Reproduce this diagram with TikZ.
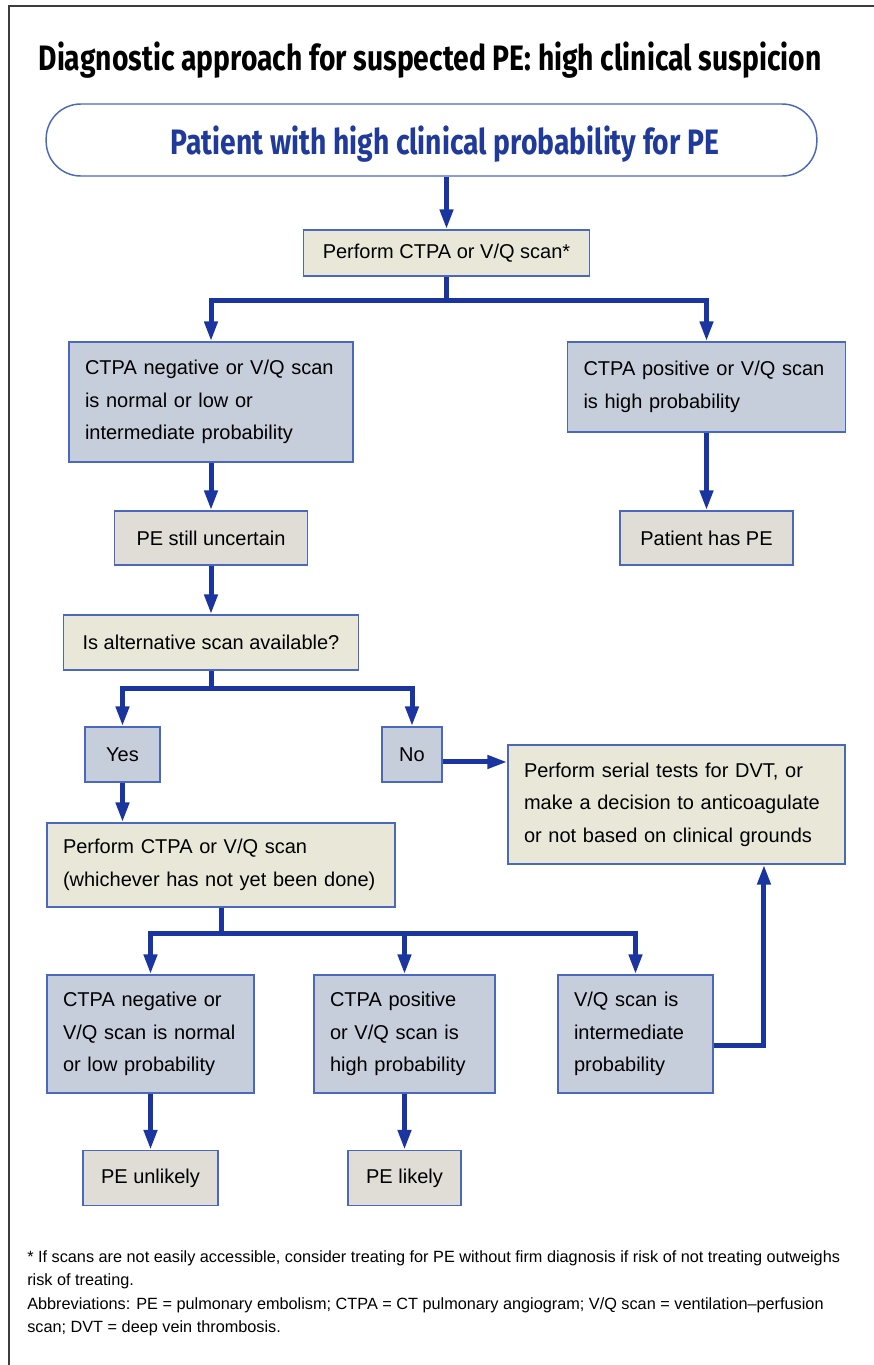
\documentclass[tikz,border=0pt]{standalone}
\usepackage{fontspec}
\setmainfont{Liberation Sans}
\newfontfamily\headfont[FakeStretch=0.8]{Fira Sans}
\usetikzlibrary{arrows.meta,calc}

\definecolor{flowblue}{RGB}{26,53,160}
\definecolor{edgeblue}{RGB}{74,104,190}
\definecolor{titleblue}{RGB}{31,58,154}
\definecolor{bluegrey}{RGB}{198,205,219}
\definecolor{paleyellow}{RGB}{233,232,216}
\definecolor{warmgrey}{RGB}{224,220,214}
\definecolor{framegrey}{RGB}{60,60,60}

\begin{document}
\begin{tikzpicture}[x=7.5pt, y=-7.5pt,
    box/.style={rectangle, draw=edgeblue, line width=0.9pt, inner xsep=12pt, inner ysep=0pt,
                font=\fontsize{15pt}{24.4pt}\selectfont},
    actbox/.style={box, fill=paleyellow},
    resbox/.style={box, fill=bluegrey},
    endbox/.style={box, fill=warmgrey},
    flow/.style={draw=flowblue, line width=3.75pt, line join=miter, -{Triangle[length=15pt,width=9.5pt]}},
    trunk/.style={draw=flowblue, line width=3.75pt},
    headline/.style={font=\headfont\bfseries\fontsize{26.5pt}{30pt}\selectfont}]

    \useasboundingbox (0,0) rectangle (87.4,136.5);
    \draw[framegrey, line width=1.5pt] (0.9,140) -- (0.9,0.6) -- (90,0.6);

    \node[headline, anchor=base] at (43.0,7.0) (title)
        {Diagnostic approach for suspected PE: high clinical suspicion};

    \node[rectangle, draw=edgeblue, line width=1.1pt, rounded corners=26pt, fill=white,
          minimum width=578pt, minimum height=54pt] at (43.15,14.0) (start) {};
    \node[headline, text=titleblue] at (44.5,14.45) (startlabel)
        {Patient with high clinical probability for PE};

    % first scan
    \node[actbox, minimum width=215pt, minimum height=34.5pt] at (44.65,25.3) (perf1) {Perform CTPA or V/Q scan*};
    \node[resbox, text width=189pt, minimum height=90pt, align=left] at (21.1,40.2) (neg1)
        {CTPA negative or V/Q scan\\is normal or low or\\intermediate probability};
    \node[resbox, text width=184.5pt, minimum height=67.5pt, align=left] at (70.65,38.7) (pos1)
        {CTPA positive or V/Q scan\\is high probability};
    \node[endbox, minimum width=129.75pt, minimum height=40.5pt] at (70.65,53.8) (haspe) {Patient has PE};
    \node[endbox, minimum width=144.75pt, minimum height=40.5pt] at (21.1,53.8) (uncertain) {PE still uncertain};
    \node[actbox, minimum width=221.25pt, minimum height=41.25pt] at (21.1,64.25) (altscan) {Is alternative scan available?};

    % alternative scan
    \node[resbox, minimum width=56.25pt, minimum height=41.25pt] at (12.25,75.45) (yes) {Yes};
    \node[resbox, minimum width=45pt, minimum height=41.25pt] at (41.2,75.45) (no) {No};
    \node[actbox, text width=228.75pt, minimum height=89.25pt, align=left] at (67.65,80.45) (serial)
        {Perform serial tests for DVT, or\\make a decision to anticoagulate\\or not based on clinical grounds};
    \node[actbox, text width=237pt, minimum height=63pt, align=left] at (22.1,86.5) (perf2)
        {Perform CTPA or V/Q scan\\(whichever has not yet been done)};

    % second scan results
    \node[resbox, text width=131.25pt, minimum height=88.5pt, align=left] at (15.05,103.4) (neg2)
        {CTPA negative or\\V/Q scan is normal\\or low probability};
    \node[resbox, text width=111.75pt, minimum height=88.5pt, align=left] at (40.45,103.4) (pos2)
        {CTPA positive\\or V/Q scan is\\high probability};
    \node[resbox, text width=92.25pt, minimum height=88.5pt, align=left] at (63.55,103.4) (inter)
        {V/Q scan is\\intermediate\\probability};
    \node[endbox, minimum width=101.25pt, minimum height=41.25pt] at (15.05,117.8) (unlikely) {PE unlikely};
    \node[endbox, minimum width=84.75pt, minimum height=41.25pt] at (40.45,117.8) (likely) {PE likely};

    \node[anchor=north west, align=left, inner sep=0pt, font=\fontsize{12.2pt}{17.6pt}\selectfont] at (2.7,125.0) (notes)
        {* If scans are not easily accessible, consider treating for PE without firm diagnosis if risk of not treating outweighs\\
         risk of treating.\\
         Abbreviations: PE = pulmonary embolism; CTPA = CT pulmonary angiogram; V/Q scan = ventilation--perfusion\\
         scan; DVT = deep vein thrombosis.};

    % connectors
    \draw[flow] (start.south -| perf1.north) -- (perf1.north);
    \draw[trunk] (perf1.south) -- ++(0,2.4) coordinate (fork1);
    \draw[flow] (fork1) -| (neg1.north);
    \draw[flow] (fork1) -| (pos1.north);
    \draw[flow] (pos1) -- (haspe);
    \draw[flow] (neg1) -- (uncertain);
    \draw[flow] (uncertain) -- (altscan);
    \draw[trunk] (altscan.south) -- ++(0,1.8) coordinate (fork2);
    \draw[flow] (fork2) -| (yes.north);
    \draw[flow] (fork2) -| (no.north);
    \coordinate (noout) at ([yshift=-5.6pt]no.east);
    \draw[flow] (noout) -- (noout -| serial.west);
    \draw[flow] (yes.south) -- (yes.south |- perf2.north);
    \draw[trunk] (perf2.south) -- ++(0,2.6) coordinate (fork3);
    \draw[flow] (fork3) -| (neg2.north);
    \draw[flow] (fork3) -| (pos2.north);
    \draw[flow] (fork3) -| (inter.north);
    \draw[flow] (neg2) -- (unlikely);
    \draw[flow] (pos2) -- (likely);
    \coordinate (interout) at ([yshift=-8.25pt]inter.east);
    \draw[flow] (interout) -| ([xshift=65.6pt]serial.south);

\end{tikzpicture}
\end{document}
